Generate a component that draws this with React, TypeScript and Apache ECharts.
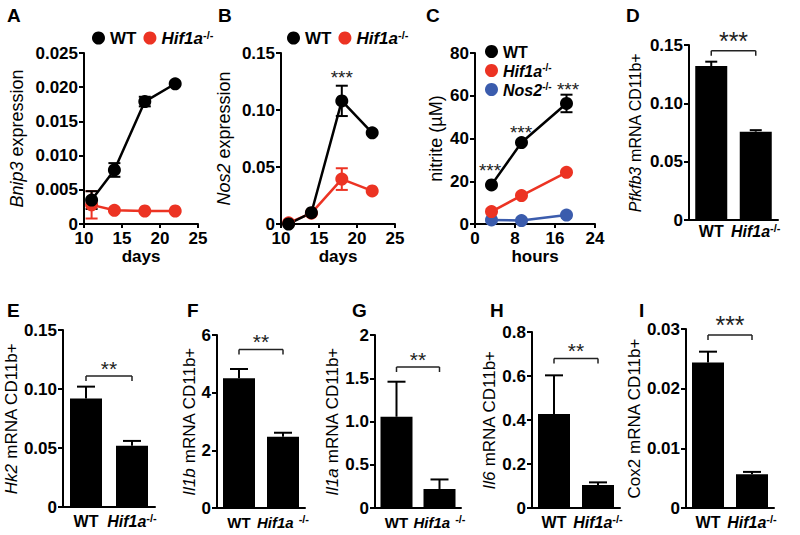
import React, { useEffect, useRef } from "react";
import * as echarts from "echarts";

const FONT = "'Liberation Sans', Arial, Helvetica, sans-serif";
const BLACK = "#000000";
const RED = "#ec3323";
const BLUE = "#3b5cad";
const STAR = "#222222";

// ---- Panel A: Bnip3 expression vs days ----
const daysAB = [11, 14, 18, 22];
const bnip3WT = [0.0035, 0.0079, 0.0179, 0.0205];
const bnip3WTErr = [0.0013, 0.001, 0.0007, 0];
const bnip3Hif = [0.0028, 0.002, 0.0019, 0.0019];
const bnip3HifErr = [0.002, 0, 0, 0];

// ---- Panel B: Nos2 expression vs days ----
const nos2WT = [0.0, 0.0099, 0.108, 0.08];
const nos2WTErr = [0, 0, 0.0133, 0];
const nos2Hif = [0.001, 0.0095, 0.0394, 0.029];
const nos2HifErr = [0, 0, 0.0095, 0];
const nos2StarsX = [18];
const nos2StarsY = [0.1325];

// ---- Panel C: nitrite vs hours ----
const hoursC = [3.3, 9.3, 18.3];
const nitriteWT = [18.3, 38.1, 56.4];
const nitriteWTErr = [0, 0, 4.1];
const nitriteHif = [5.8, 13.3, 24.2];
const nitriteNos2 = [1.9, 1.6, 4.2];
const nitriteStarsX = [3.0, 9.2, 18.6];
const nitriteStarsY = [27.2, 45.2, 65.2];

// ---- Bar panels D–I ----
const groups = ["WT", "Hif1a"];
const pfkfb3Mean = [0.132, 0.0757];
const pfkfb3Err = [0.0037, 0.0013];
const pfkfb3Bracket = 0.145;
const hk2Mean = [0.092, 0.052];
const hk2Err = [0.01, 0.004];
const hk2Bracket = 0.111;
const il1bMean = [4.5, 2.47];
const il1bErr = [0.32, 0.14];
const il1bBracket = 5.5;
const il1aMean = [1.055, 0.22];
const il1aErr = [0.405, 0.11];
const il1aBracket = 1.63;
const il6Mean = [0.427, 0.1045];
const il6Err = [0.176, 0.012];
const il6Bracket = 0.68;
const cox2Mean = [0.0244, 0.00565];
const cox2Err = [0.0018, 0.0004];
const cox2Bracket = 0.029;

// tick values (min, max, interval) per panel
const ticksA = [0, 0.025, 0.005];
const ticksB = [0, 0.15, 0.05];
const ticksC = [0, 80, 20];
const ticksD = [0, 0.15, 0.05];
const ticksE = [0, 0.15, 0.05];
const ticksF = [0, 6, 2];
const ticksG = [0, 2, 0.5];
const ticksH = [0, 0.8, 0.2];
const ticksI = [0, 0.03, 0.01];
const daysTicks = [10, 25, 5];
const hoursTicks = [0, 24, 8];

const panelLetters = ["A", "B", "C", "D", "E", "F", "G", "H", "I"];

// ---- layout (pixels) ----
const gridBoxes = [
  [84, 53, 114, 171],
  [281, 53, 114, 171],
  [475, 53, 120, 171],
  [689, 45, 89, 175],
  [63, 330, 92, 177],
  [217, 335, 88, 173],
  [375, 335, 86, 173],
  [532, 332, 88, 176],
  [686, 329, 88, 179],
];
const letterPos = [
  [7, 6], [218, 6], [426, 6], [626, 6],
  [7, 301], [187, 301], [352, 301], [490, 301], [639, 301],
];

function makeRich(size: number, supSize: number, lh: number, gap: number): any {
  return {
    b: { fontFamily: FONT, fontSize: size, fontWeight: "bold", color: BLACK, lineHeight: lh, verticalAlign: "bottom" },
    i: { fontFamily: FONT, fontSize: size, fontWeight: "bold", fontStyle: "italic", color: BLACK, lineHeight: lh, verticalAlign: "bottom" },
    s: { fontFamily: FONT, fontSize: supSize, fontWeight: "bold", color: BLACK, lineHeight: 10, verticalAlign: "top", padding: [0, 0, 0, gap] },
  };
}

const legendFormatter = (name: string) => {
  if (name === "WT") return "{b|WT}";
  if (name === "Hif1a") return "{i|Hif1a}{s|-/-}";
  return "{i|Nos2}{s|-/-}";
};

function fmtFixed(d: number, intMax?: number) {
  return (v: number) => {
    if (Math.abs(v) < 1e-12) return "0";
    if (intMax !== undefined && Math.abs(v - intMax) < 1e-9) return String(intMax);
    return v.toFixed(d);
  };
}

function makeYAxis(gi: number, t: number[], fmt: any, name: string, gap: number, nameSize: number) {
  return {
    type: "value",
    gridIndex: gi,
    min: t[0],
    max: t[1],
    interval: t[2],
    name,
    nameLocation: "middle",
    nameGap: gap,
    nameTextStyle: {
      fontFamily: FONT,
      fontSize: nameSize,
      color: BLACK,
      rich: { i: { fontFamily: FONT, fontSize: nameSize, fontStyle: "italic", color: BLACK } },
    },
    axisLine: { show: true, lineStyle: { color: BLACK, width: 2 } },
    axisTick: { show: true, length: 5, lineStyle: { color: BLACK, width: 2 } },
    axisLabel: { fontFamily: FONT, fontSize: 17, fontWeight: "bold", color: BLACK, margin: 6, formatter: fmt },
    splitLine: { show: false },
  };
}

function makeValueXAxis(gi: number, t: number[], name: string) {
  return {
    type: "value",
    gridIndex: gi,
    min: t[0],
    max: t[1],
    interval: t[2],
    name,
    nameLocation: "middle",
    nameGap: 19,
    nameTextStyle: { fontFamily: FONT, fontSize: 17, fontWeight: "bold", color: BLACK },
    axisLine: { show: true, onZero: false, lineStyle: { color: BLACK, width: 2 } },
    axisTick: { show: true, length: 4, lineStyle: { color: BLACK, width: 2 } },
    axisLabel: { fontFamily: FONT, fontSize: 17, fontWeight: "bold", color: BLACK, margin: 6 },
    splitLine: { show: false },
  };
}

function makeCatXAxis(gi: number, margin: number, size: number, gap: number) {
  return {
    type: "category",
    gridIndex: gi,
    data: groups,
    axisLine: { show: true, onZero: false, lineStyle: { color: BLACK, width: 2 } },
    axisTick: { show: false },
    axisLabel: {
      margin,
      interval: 0,
      formatter: (v: string) => (v === "WT" ? "{b|WT}" : "{i|Hif1a}{s|-/-}"),
      rich: makeRich(size, 11, 17, gap),
    },
    splitLine: { show: false },
  };
}

const errRender = (color: string, cap: number, both: boolean) => (params: any, api: any) => {
  const x = api.value(0);
  const a = api.coord([x, api.value(1)]);
  const b = api.coord([x, api.value(2)]);
  const st = { stroke: color, lineWidth: 2 };
  const children: any[] = [
    { type: "line", shape: { x1: a[0], y1: a[1], x2: b[0], y2: b[1] }, style: st },
    { type: "line", shape: { x1: b[0] - cap / 2, y1: b[1], x2: b[0] + cap / 2, y2: b[1] }, style: st },
  ];
  if (both) children.push({ type: "line", shape: { x1: a[0] - cap / 2, y1: a[1], x2: a[0] + cap / 2, y2: a[1] }, style: st });
  return { type: "group", children };
};

const starRender = (size: number) => (params: any, api: any) => {
  const p = api.coord([api.value(0), api.value(1)]);
  return {
    type: "text",
    x: p[0],
    y: p[1] + 5,
    style: { text: "***", fill: STAR, font: `${size}px ${FONT}`, align: "center", verticalAlign: "middle" },
  };
};

const bracketRender = (stars: string, size: number) => (params: any, api: any) => {
  const y = api.value(2);
  const a = api.coord([api.value(0), y]);
  const b = api.coord([api.value(1), y]);
  const st = { stroke: STAR, lineWidth: 1.5 };
  return {
    type: "group",
    children: [
      { type: "line", shape: { x1: a[0], y1: a[1], x2: b[0], y2: b[1] }, style: st },
      { type: "line", shape: { x1: a[0], y1: a[1], x2: a[0], y2: a[1] + 5 }, style: st },
      { type: "line", shape: { x1: b[0], y1: b[1], x2: b[0], y2: b[1] + 5 }, style: st },
      {
        type: "text",
        x: (a[0] + b[0]) / 2,
        y: a[1] + 3,
        style: { text: stars, fill: STAR, font: `${size}px ${FONT}`, align: "center", verticalAlign: "bottom" },
      },
    ],
  };
};

const pairs = (xs: number[], ys: number[]) => xs.map((x, i) => [x, ys[i]]);
const errData = (xs: number[], ms: number[], es: number[]) =>
  xs.map((x, i) => [x, ms[i] - es[i], ms[i] + es[i]]).filter((_, i) => es[i] > 0);

function lineSeries(name: string, gi: number, xs: number[], ys: number[], color: string) {
  return {
    type: "line",
    name,
    xAxisIndex: gi,
    yAxisIndex: gi,
    data: pairs(xs, ys),
    symbol: "circle",
    symbolSize: 13,
    clip: false,
    lineStyle: { color, width: 2.5 },
    itemStyle: { color },
    z: 3,
  };
}

function errSeries(gi: number, data: number[][], color: string, cap: number, both: boolean) {
  return {
    type: "custom",
    name: "err",
    xAxisIndex: gi,
    yAxisIndex: gi,
    data,
    encode: { x: 0, y: [1, 2] },
    renderItem: errRender(color, cap, both),
    z: 2,
  };
}

function starSeries(gi: number, xs: number[], ys: number[], size: number) {
  return {
    type: "custom",
    name: "stars",
    xAxisIndex: gi,
    yAxisIndex: gi,
    data: pairs(xs, ys),
    encode: { x: 0, y: 1 },
    renderItem: starRender(size),
    z: 4,
  };
}

const barPanels = [
  { gi: 3, mean: pfkfb3Mean, err: pfkfb3Err, br: pfkfb3Bracket, stars: "***", size: 25, cap: 12 },
  { gi: 4, mean: hk2Mean, err: hk2Err, br: hk2Bracket, stars: "**", size: 21, cap: 18 },
  { gi: 5, mean: il1bMean, err: il1bErr, br: il1bBracket, stars: "**", size: 21, cap: 18 },
  { gi: 6, mean: il1aMean, err: il1aErr, br: il1aBracket, stars: "**", size: 21, cap: 18 },
  { gi: 7, mean: il6Mean, err: il6Err, br: il6Bracket, stars: "**", size: 21, cap: 18 },
  { gi: 8, mean: cox2Mean, err: cox2Err, br: cox2Bracket, stars: "***", size: 25, cap: 18 },
];

function buildOption() {
  const legendBase = {
    icon: "circle",
    itemWidth: 13,
    itemHeight: 13,
    selectedMode: false,
    formatter: legendFormatter,
  };

  const series: any[] = [
    // A
    errSeries(0, errData(daysAB, bnip3Hif, bnip3HifErr), RED, 12, true),
    lineSeries("Hif1a", 0, daysAB, bnip3Hif, RED),
    errSeries(0, errData(daysAB, bnip3WT, bnip3WTErr), BLACK, 12, true),
    lineSeries("WT", 0, daysAB, bnip3WT, BLACK),
    // B
    errSeries(1, errData(daysAB, nos2Hif, nos2HifErr), RED, 12, true),
    lineSeries("Hif1a", 1, daysAB, nos2Hif, RED),
    errSeries(1, errData(daysAB, nos2WT, nos2WTErr), BLACK, 12, true),
    lineSeries("WT", 1, daysAB, nos2WT, BLACK),
    starSeries(1, nos2StarsX, nos2StarsY, 19),
    // C
    lineSeries("Nos2", 2, hoursC, nitriteNos2, BLUE),
    lineSeries("Hif1a", 2, hoursC, nitriteHif, RED),
    errSeries(2, errData(hoursC, nitriteWT, nitriteWTErr), BLACK, 12, true),
    lineSeries("WT", 2, hoursC, nitriteWT, BLACK),
    starSeries(2, nitriteStarsX, nitriteStarsY, 19),
  ];

  barPanels.forEach((p) => {
    series.push({
      type: "bar",
      name: "bar",
      xAxisIndex: p.gi,
      yAxisIndex: p.gi,
      data: p.mean,
      barWidth: 32,
      itemStyle: { color: BLACK },
      z: 2,
    });
    series.push(
      errSeries(
        p.gi,
        p.mean.map((m, i) => [i, m, m + p.err[i]]),
        BLACK,
        p.cap,
        false
      )
    );
    series.push({
      type: "custom",
      name: "bracket",
      xAxisIndex: p.gi,
      yAxisIndex: p.gi,
      data: [[0, 1, p.br]],
      encode: { x: [0, 1], y: 2 },
      renderItem: bracketRender(p.stars, p.size),
      z: 4,
    });
  });

  const richTop = makeRich(17, 11, 18, 0);
  const richC = makeRich(16, 10, 17, 0);

  return {
    animation: false,
    backgroundColor: "#ffffff",
    title: panelLetters.map((t, i) => ({
      text: t,
      left: letterPos[i][0],
      top: letterPos[i][1],
      padding: 0,
      textStyle: { fontFamily: FONT, fontSize: 19, fontWeight: "bold", color: BLACK },
    })),
    legend: [
      {
        ...legendBase,
        data: ["WT", "Hif1a"],
        left: 87,
        top: 24,
        orient: "horizontal",
        itemGap: 7,
        textStyle: { fontFamily: FONT, fontSize: 17, fontWeight: "bold", color: BLACK, rich: richTop },
      },
      {
        ...legendBase,
        data: ["WT", "Hif1a"],
        left: 282,
        top: 24,
        orient: "horizontal",
        itemGap: 7,
        textStyle: { fontFamily: FONT, fontSize: 17, fontWeight: "bold", color: BLACK, rich: richTop },
      },
      {
        ...legendBase,
        data: ["WT", "Hif1a", "Nos2"],
        left: 480,
        top: 39,
        orient: "vertical",
        itemGap: 2,
        textStyle: { fontFamily: FONT, fontSize: 16, fontWeight: "bold", color: BLACK, rich: richC },
      },
    ],
    grid: gridBoxes.map((g) => ({
      left: g[0],
      top: g[1],
      width: g[2],
      height: g[3],
      containLabel: false,
      outerBoundsMode: "none",
    })),
    xAxis: [
      makeValueXAxis(0, daysTicks, "days"),
      makeValueXAxis(1, daysTicks, "days"),
      makeValueXAxis(2, hoursTicks, "hours"),
      makeCatXAxis(3, 2, 16, 0),
      makeCatXAxis(4, 5, 16, 0),
      makeCatXAxis(5, 5, 15, 5),
      makeCatXAxis(6, 5, 15, 5),
      makeCatXAxis(7, 5, 16, 0),
      makeCatXAxis(8, 5, 16, 0),
    ],
    yAxis: [
      makeYAxis(0, ticksA, fmtFixed(3), "{i|Bnip3} expression", 58, 18),
      makeYAxis(1, ticksB, fmtFixed(2), "{i|Nos2} expression", 48, 18),
      makeYAxis(2, ticksC, fmtFixed(0), "nitrite (µM)", 30, 18),
      makeYAxis(3, ticksD, fmtFixed(2), "{i|Pfkfb3} mRNA CD11b+", 46, 16),
      makeYAxis(4, ticksE, fmtFixed(2), "{i|Hk2} mRNA CD11b+", 31, 17),
      makeYAxis(5, ticksF, fmtFixed(0), "{i|Il1b} mRNA CD11b+", 19, 17),
      makeYAxis(6, ticksG, fmtFixed(1, 2), "{i|Il1a} mRNA CD11b+", 18, 17),
      makeYAxis(7, ticksH, fmtFixed(1), "{i|Il6} mRNA CD11b+", 19, 17),
      makeYAxis(8, ticksI, fmtFixed(2), "Cox2 mRNA CD11b+", 29, 17),
    ],
    series,
  };
}

export default function App() {
  const ref = useRef<HTMLDivElement>(null);
  useEffect(() => {
    if (!ref.current) return;
    const chart = echarts.init(ref.current, undefined, { renderer: "svg" });
    chart.setOption(buildOption() as any);
    return () => chart.dispose();
  }, []);
  return (
    <div
      ref={ref}
      style={{ position: "absolute", left: 0, top: 0, width: 800, height: 535, background: "#fff" }}
    />
  );
}
